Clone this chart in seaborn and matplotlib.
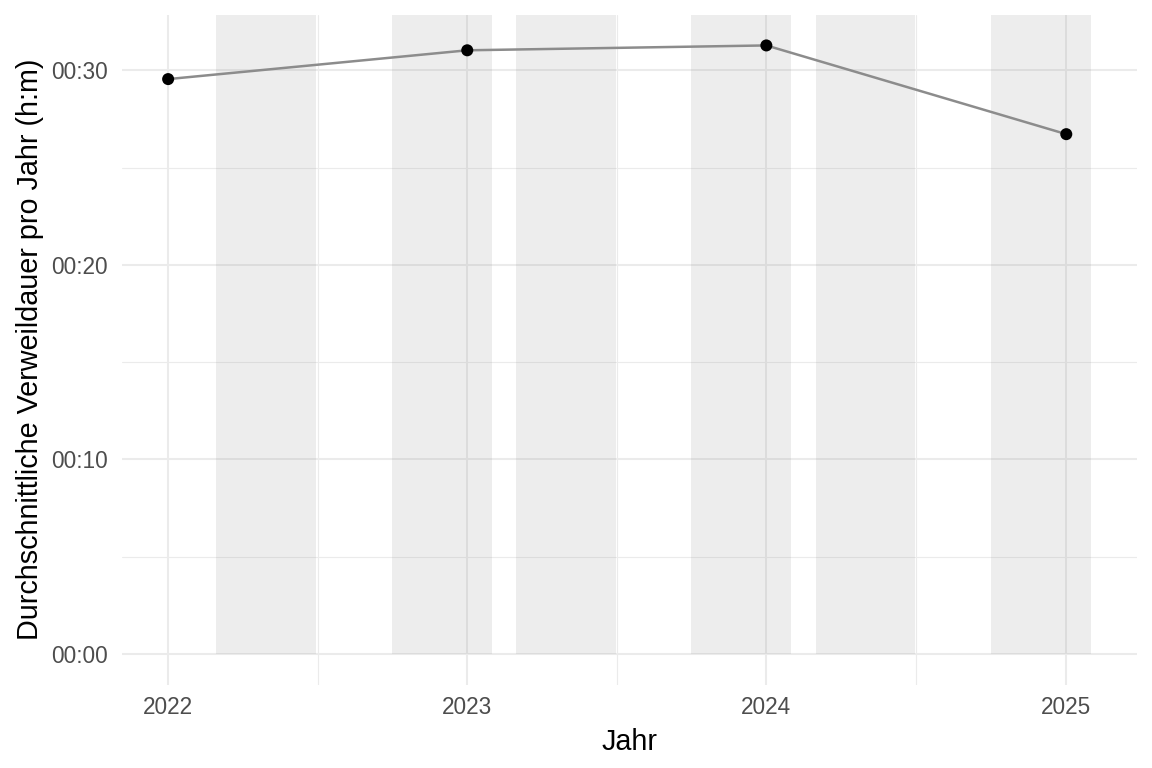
import numpy as np
import pandas as pd
import matplotlib
matplotlib.use("Agg")
import matplotlib.pyplot as plt
import matplotlib.dates as mdates
from matplotlib.ticker import FuncFormatter, FixedLocator
import seaborn as sns

# --- data ---
jahre = ["2022-01-01", "2023-01-01", "2024-01-01", "2025-01-01"]
verweildauer_min = [29.55, 31.03, 31.28, 26.72]  # average dwell time in minutes

semester_start = ["2022-03-01", "2022-10-01", "2023-03-01", "2023-10-01", "2024-03-01", "2024-10-01"]
semester_ende = ["2022-07-01", "2023-01-31", "2023-07-01", "2024-01-31", "2024-07-01", "2025-01-31"]

df = pd.DataFrame({"Jahr": pd.to_datetime(jahre), "Dauer": verweildauer_min})

sns.set_theme(style="white")
plt.rcParams["font.family"] = ["Liberation Sans", "DejaVu Sans"]

fig = plt.figure(figsize=(11.52, 7.68), dpi=100)
ax = fig.add_axes([122 / 1152, 1 - 684.5 / 768, (1137 - 122) / 1152, (684.5 - 15) / 768])

# limits with 5% expansion (ggplot style)
x_all = np.concatenate([mdates.date2num(pd.to_datetime(jahre)),
                        mdates.date2num(pd.to_datetime(semester_start)),
                        mdates.date2num(pd.to_datetime(semester_ende))])
xlo, xhi = x_all.min(), x_all.max()
xpad = 0.05 * (xhi - xlo)
ylo, yhi = 0.0, max(verweildauer_min)
ypad = 0.05 * (yhi - ylo)

# grid
grid_col = "#EBEBEB"
major_x = mdates.date2num(pd.to_datetime(jahre))
minor_x = (major_x[:-1] + major_x[1:]) / 2
ax.xaxis.set_major_locator(FixedLocator(major_x))
ax.xaxis.set_minor_locator(FixedLocator(minor_x))
ax.yaxis.set_major_locator(FixedLocator([0, 10, 20, 30]))
ax.yaxis.set_minor_locator(FixedLocator([5, 15, 25]))
ax.grid(True, which="major", color=grid_col, linewidth=1.5, zorder=0)
ax.grid(True, which="minor", color=grid_col, linewidth=0.8, zorder=0)
ax.set_axisbelow(True)

# semester shading
yfrac0 = (0 - (ylo - ypad)) / ((yhi + ypad) - (ylo - ypad))
for s, e in zip(semester_start, semester_ende):
    ax.axvspan(pd.Timestamp(s), pd.Timestamp(e), ymin=yfrac0, ymax=1,
               color="#7F7F7F", alpha=0.134, linewidth=0, zorder=1)

sns.lineplot(data=df, x="Jahr", y="Dauer", ax=ax, color="#8C8C8C", linewidth=1.8, zorder=3)
sns.scatterplot(data=df, x="Jahr", y="Dauer", ax=ax, color="black", s=75, edgecolor="none", zorder=4)

ax.set_xlim(xlo - xpad, xhi + xpad)
ax.set_ylim(ylo - ypad, yhi + ypad)

ax.xaxis.set_major_formatter(FuncFormatter(lambda v, p: mdates.num2date(v).strftime("%Y")))
ax.yaxis.set_major_formatter(FuncFormatter(lambda v, p: f"{int(v // 60):02d}:{int(round(v % 60)):02d}"))

for sp in ax.spines.values():
    sp.set_visible(False)
ax.tick_params(axis="both", which="both", length=0, labelsize=16.3, labelcolor="#4D4D4D")
ax.tick_params(axis="x", pad=8.5)
ax.tick_params(axis="y", pad=10.5)

ax.set_xlabel("Jahr", fontsize=20.7, color="black", labelpad=6)
ax.set_ylabel("Durchschnittliche Verweildauer pro Jahr (h:m)", fontsize=20.7, color="black", labelpad=5)

fig.savefig("out.png", dpi=100, facecolor="white")
